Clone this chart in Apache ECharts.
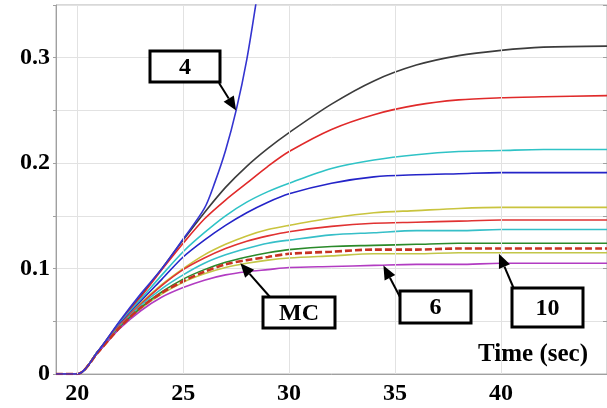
<!DOCTYPE html>
<html>
<head>
<meta charset="utf-8">
<script src="https://cdn.jsdelivr.net/npm/echarts@6/dist/echarts.min.js"></script>
<style>
  html, body { margin: 0; padding: 0; background: #fff; }
  #chart { width: 607px; height: 408px; }
</style>
</head>
<body>
<div id="chart"></div>
<script>
// time samples (sec)
var times = [19, 20, 21, 22, 23, 24, 25, 26, 27, 28, 29, 30, 32, 34, 36, 38, 40, 42, 45];
var blackLine   = [0, 0, 0.022, 0.049, 0.074, 0.100, 0.127, 0.153, 0.177, 0.197, 0.214, 0.229, 0.256, 0.278, 0.293, 0.302, 0.307, 0.310, 0.311];
var redLine     = [0, 0, 0.022, 0.049, 0.073, 0.099, 0.124, 0.147, 0.165, 0.181, 0.197, 0.211, 0.232, 0.246, 0.255, 0.260, 0.262, 0.263, 0.264];
var cyanLine    = [0, 0, 0.022, 0.048, 0.071, 0.094, 0.116, 0.134, 0.150, 0.163, 0.173, 0.181, 0.195, 0.203, 0.208, 0.211, 0.212, 0.213, 0.213];
var blueLine    = [0, 0, 0.022, 0.047, 0.069, 0.090, 0.111, 0.127, 0.141, 0.153, 0.163, 0.171, 0.181, 0.187, 0.189, 0.190, 0.191, 0.191, 0.191];
var yellowLine  = [0, 0, 0.022, 0.046, 0.067, 0.085, 0.100, 0.113, 0.123, 0.131, 0.137, 0.141, 0.148, 0.153, 0.155, 0.157, 0.158, 0.158, 0.158];
var red2Line    = [0, 0, 0.022, 0.046, 0.066, 0.084, 0.099, 0.110, 0.119, 0.126, 0.131, 0.135, 0.140, 0.143, 0.144, 0.145, 0.146, 0.146, 0.146];
var cyan2Line   = [0, 0, 0.022, 0.045, 0.065, 0.081, 0.094, 0.105, 0.113, 0.119, 0.124, 0.127, 0.132, 0.134, 0.136, 0.136, 0.137, 0.137, 0.137];
var greenLine   = [0, 0, 0.021, 0.044, 0.063, 0.078, 0.090, 0.099, 0.106, 0.111, 0.115, 0.118, 0.121, 0.122, 0.123, 0.124, 0.124, 0.124, 0.124];
var mcLine      = [0, 0, 0.021, 0.044, 0.063, 0.077, 0.088, 0.097, 0.104, 0.108, 0.111, 0.114, 0.116, 0.118, 0.118, 0.119, 0.119, 0.119, 0.119];
var yellow2Line = [0, 0, 0.021, 0.044, 0.062, 0.076, 0.087, 0.095, 0.101, 0.105, 0.108, 0.110, 0.112, 0.114, 0.114, 0.115, 0.115, 0.115, 0.115];
var magentaLine = [0, 0, 0.021, 0.043, 0.060, 0.073, 0.082, 0.089, 0.094, 0.097, 0.099, 0.101, 0.102, 0.103, 0.104, 0.104, 0.105, 0.105, 0.105];

// curve "4" runs off the top
var times4 = [19, 20, 21, 22, 23, 24, 25, 26, 26.5, 27, 27.5, 28, 28.5];
var line4  = [0, 0, 0.022, 0.050, 0.076, 0.100, 0.128, 0.157, 0.182, 0.212, 0.250, 0.298, 0.360];

var xGrid = [20, 25, 30, 35, 40, 45];
var xTicks = [20, 25, 30, 35, 40];

function pairs(ts, vs) {
    return ts.map(function (t, i) { return [t, vs[i]]; });
}

var serif = '"Liberation Serif", "DejaVu Serif", serif';

function curve(name, ts, vs, color, extra) {
    var s = {
        name: name,
        type: 'line',
        data: pairs(ts, vs),
        smooth: 0.3,
        showSymbol: false,
        silent: true,
        lineStyle: { color: color, width: 1.6 }
    };
    if (extra) s.lineStyle = Object.assign(s.lineStyle, extra);
    return s;
}

var chart = echarts.init(document.getElementById('chart'));

var series = [
    curve('black', times, blackLine, '#3c3c3c'),
    curve('red', times, redLine, '#e02a2a'),
    curve('cyan', times, cyanLine, '#2fc3c6'),
    curve('blue', times, blueLine, '#2424c8'),
    curve('yellow', times, yellowLine, '#c9c43e'),
    curve('red2', times, red2Line, '#e03232'),
    curve('cyan2', times, cyan2Line, '#36bfc8'),
    curve('yellow2', times, yellow2Line, '#c2c648'),
    curve('green', times, greenLine, '#2a8a2a'),
    curve('magenta', times, magentaLine, '#b23cc2'),
    curve('MC', times, mcLine, '#c83222', { width: 2.6, type: [7, 3] }),
    curve('4', times4, line4, '#3434d0')
];

// vertical grid lines at the labelled times
series[0].markLine = {
    silent: true,
    symbol: 'none',
    label: { show: false },
    lineStyle: { color: '#e2e2e2', width: 1, type: 'solid' },
    data: xGrid.map(function (v) { return { xAxis: v }; })
};

chart.setOption({
    animation: false,
    grid: {
        left: 56, right: 0, top: 5, bottom: 34,
        show: true, borderColor: '#b0b0b0', borderWidth: 1
    },
    xAxis: {
        type: 'value',
        min: 19, max: 45,
        axisLine: { show: true, onZero: false, lineStyle: { color: '#a0a0a0' } },
        axisTick: { show: true, inside: true, length: 4, customValues: xTicks, lineStyle: { color: '#a0a0a0' } },
        axisLabel: {
            customValues: xTicks,
            color: '#000', fontFamily: serif, fontWeight: 'bold', fontSize: 24, margin: 8
        },
        splitLine: { show: false }
    },
    yAxis: [{
        type: 'value',
        min: 0, max: 0.35, interval: 0.05,
        axisLine: { show: true, lineStyle: { color: '#a0a0a0' } },
        axisTick: { show: true, inside: false, length: 3, lineStyle: { color: '#a0a0a0' } },
        axisLabel: {
            color: '#000', fontFamily: serif, fontWeight: 'bold', fontSize: 24, margin: 6,
            formatter: function (v) {
                var k = Math.round(v * 100);
                if (k % 10 !== 0) return '';
                return k === 0 ? '0' : (k / 100).toFixed(1);
            }
        },
        splitLine: { show: true, lineStyle: { color: '#e2e2e2' } }
    }, {
        type: 'value',
        position: 'right',
        min: 0, max: 0.35, interval: 0.05,
        axisLine: { show: false },
        axisTick: { show: true, inside: true, length: 4, lineStyle: { color: '#a0a0a0' } },
        axisLabel: { show: false },
        splitLine: { show: false }
    }],
    series: series
});

// callout boxes with arrows pointing at the curves
var notes = [
    { text: '4',  head: [27.5, 0.25],   tail: [219, 83],  box: [150, 51, 70, 31] },
    { text: 'MC', head: [27.7, 0.105],  tail: [270, 297], box: [263, 297, 72, 31] },
    { text: '6',  head: [34.45, 0.103], tail: [400, 297], box: [400, 291, 71, 32] },
    { text: '10', head: [39.9, 0.114],  tail: [514, 289], box: [512, 288, 71, 39] }
];

var elements = [];
notes.forEach(function (n) {
    var head = chart.convertToPixel({ gridIndex: 0 }, n.head);
    var tail = n.tail;
    var dx = head[0] - tail[0], dy = head[1] - tail[1];
    var L = Math.sqrt(dx * dx + dy * dy);
    var ux = dx / L, uy = dy / L;
    var hl = 14, hw = 6;
    var bx = head[0] - ux * hl, by = head[1] - uy * hl;
    elements.push({
        type: 'line', z: 100,
        shape: { x1: tail[0], y1: tail[1], x2: bx, y2: by },
        style: { stroke: '#000', lineWidth: 2 }
    });
    elements.push({
        type: 'polygon', z: 100,
        shape: { points: [head, [bx - uy * hw, by + ux * hw], [bx + uy * hw, by - ux * hw]] },
        style: { fill: '#000' }
    });
    elements.push({
        type: 'rect', z: 100,
        shape: { x: n.box[0], y: n.box[1], width: n.box[2], height: n.box[3] },
        style: { fill: '#fff', stroke: '#000', lineWidth: 3 }
    });
    elements.push({
        type: 'text', z: 101,
        x: n.box[0] + n.box[2] / 2, y: n.box[1] + n.box[3] / 2 + 1,
        style: {
            text: n.text, fill: '#000', align: 'center', verticalAlign: 'middle',
            font: 'bold 24px ' + serif
        }
    });
});

elements.push({
    type: 'text', z: 101,
    x: 588, y: 355,
    style: {
        text: 'Time (sec)', fill: '#000', align: 'right', verticalAlign: 'middle',
        font: 'bold 25px ' + serif
    }
});

chart.setOption({ graphic: elements });
</script>
</body>
</html>
